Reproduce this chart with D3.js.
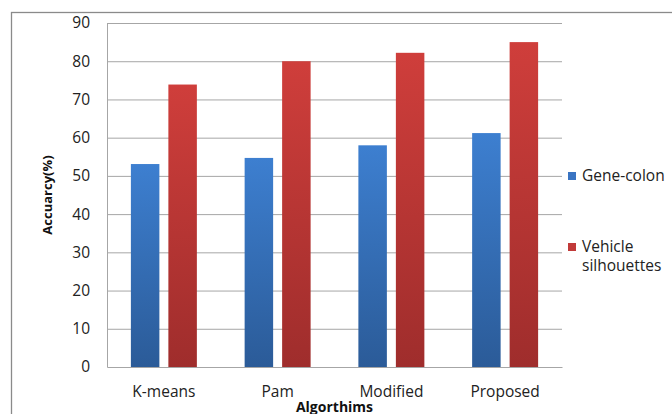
<!DOCTYPE html>
<html>
<head>
<meta charset="utf-8">
<script src="https://cdn.jsdelivr.net/npm/d3@7"></script>
<style>
  body { margin: 0; background: #fff; }
  svg { display: block; font-family: "Open Sans", sans-serif; }
</style>
</head>
<body>
<svg id="chart"></svg>
<script>
// Chart data
const algorithms = ["K-means", "Pam", "Modified", "Proposed"];
const seriesNames = ["Gene-colon", "Vehicle silhouettes"];
const geneColon = [53.1, 54.7, 58.0, 61.2];
const vehicleSilhouettes = [73.9, 80.0, 82.2, 85.0];
const yTicks = [0, 10, 20, 30, 40, 50, 60, 70, 80, 90];

const W = 672, H = 414;
const margin = { top: 23, right: 110, bottom: 47, left: 107 };
const width = W - margin.left - margin.right;
const height = H - margin.top - margin.bottom;

const svg = d3.select("#chart").attr("width", W).attr("height", H);

// outer chart frame
svg.append("rect")
   .attr("x", 11.5).attr("y", 12.5)
   .attr("width", 700).attr("height", 500)
   .attr("fill", "none").attr("stroke", "#8a8a8a").attr("stroke-width", 1.3);

// gradients for the bars
const defs = svg.append("defs");
const grads = [
    { id: "gBlue", top: "#3d7fd0", bottom: "#2b5b98" },
    { id: "gRed", top: "#cf3e3b", bottom: "#9f2d2c" }
];
grads.forEach(g => {
    const lg = defs.append("linearGradient").attr("id", g.id)
        .attr("x1", 0).attr("y1", 0).attr("x2", 0).attr("y2", 1);
    lg.append("stop").attr("offset", "0%").attr("stop-color", g.top);
    lg.append("stop").attr("offset", "100%").attr("stop-color", g.bottom);
});

const g = svg.append("g").attr("transform", `translate(${margin.left},${margin.top})`);

const x0 = d3.scaleBand().domain(algorithms).range([0, width]).padding(0);
const x1 = d3.scaleBand().domain(seriesNames).range([0, x0.bandwidth()])
             .paddingInner(0.24).paddingOuter(0.637);
const y = d3.scaleLinear().domain([0, 90]).range([height, 0]);

// gridlines
g.append("g")
 .selectAll("line")
 .data(yTicks.slice(1))
 .enter().append("line")
 .attr("x1", 0).attr("x2", width)
 .attr("y1", d => y(d) + 0.5).attr("y2", d => y(d) + 0.5)
 .attr("stroke", "#a6a6a6").attr("stroke-width", 1);

// y axis
const yAxis = g.append("g")
 .call(d3.axisLeft(y).tickValues(yTicks).tickSize(0).tickPadding(17));
yAxis.select(".domain").attr("stroke", "#a6a6a6");
yAxis.selectAll("text").attr("font-size", 15.5).attr("fill", "#222")
     .attr("font-family", "Open Sans, sans-serif");

// x axis
const xAxis = g.append("g")
 .attr("transform", `translate(0,${height})`)
 .call(d3.axisBottom(x0).tickSize(0).tickPadding(19));
xAxis.select(".domain").attr("stroke", "#a6a6a6");
xAxis.selectAll("text").attr("font-size", 15.5).attr("fill", "#222")
     .attr("font-family", "Open Sans, sans-serif");

// bars
const values = [geneColon, vehicleSilhouettes];
const fills = ["url(#gBlue)", "url(#gRed)"];
seriesNames.forEach((s, si) => {
    g.selectAll(".bar" + si)
     .data(algorithms)
     .enter().append("rect")
     .attr("class", "bar" + si)
     .attr("x", d => x0(d) + x1(s))
     .attr("y", (d, i) => y(values[si][i]))
     .attr("width", x1.bandwidth())
     .attr("height", (d, i) => height - y(values[si][i]))
     .attr("fill", fills[si]);
});

// axis titles
svg.append("text")
   .attr("transform", `translate(52,${margin.top + height / 2}) rotate(-90)`)
   .attr("text-anchor", "middle")
   .attr("font-size", 13).attr("font-weight", "bold").attr("fill", "#111")
   .text("Accuarcy(%)");

svg.append("text")
   .attr("x", margin.left + width / 2).attr("y", 412)
   .attr("text-anchor", "middle")
   .attr("font-size", 14).attr("font-weight", "bold").attr("fill", "#111")
   .text("Algorthims");

// legend
const legendColors = ["#3a74c2", "#c13a39"];
const legendLines = [["Gene-colon"], ["Vehicle", "silhouettes"]];
const legendY = [176, 247];
legendLines.forEach((lines, i) => {
    const lg = svg.append("g");
    lg.append("rect")
      .attr("x", 568).attr("y", legendY[i] - 4)
      .attr("width", 8).attr("height", 8)
      .attr("fill", legendColors[i]);
    lines.forEach((t, j) => {
        lg.append("text")
          .attr("x", 582).attr("y", legendY[i] + 5 + j * 19)
          .attr("font-size", 15.5).attr("fill", "#222")
          .text(t);
    });
});
</script>
</body>
</html>
